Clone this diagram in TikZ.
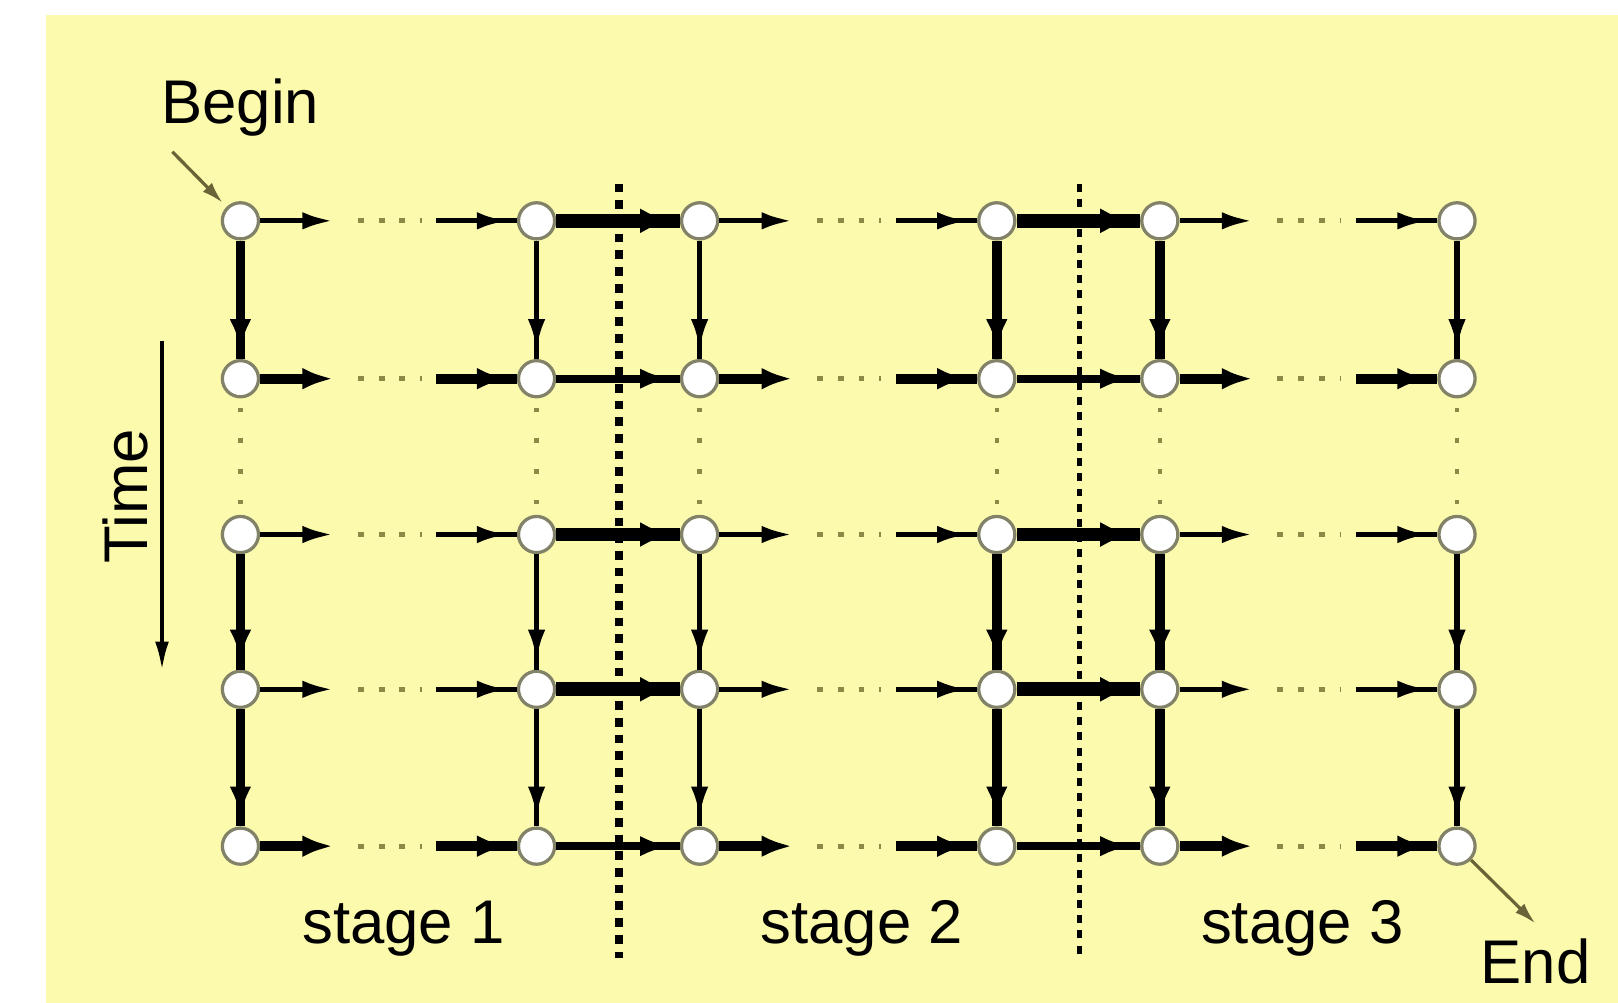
\documentclass[tikz,border=0pt]{standalone}
\usepackage{fontspec}
\setmainfont{Liberation Sans}
\usetikzlibrary{arrows.meta,decorations.markings,calc}
\definecolor{bgyellow}{RGB}{252,250,172}
\definecolor{dotgray}{RGB}{140,136,70}
\definecolor{nodegray}{RGB}{130,130,105}
\definecolor{pointergray}{RGB}{105,100,55}
\begin{document}
\begin{tikzpicture}[x=0.01cm,y=-0.01cm,
  vertex/.style={circle,draw=nodegray,line width=0.9pt,fill=white,minimum size=0.35cm,inner sep=0pt},
  lbl/.style={font=\fontsize{17}{20}\selectfont,inner sep=0pt},
  arrowend/.style 2 args={line width=#1,-{Latex[length=8.5pt,width=#2]}},
  arrownear/.style 2 args={line width=#1,postaction={decorate,decoration={markings,mark=at position -2.5pt with {\arrow{Latex[length=8.5pt,width=#2]}}}}},
  hdots/.style={draw=dotgray,line width=1.3pt,dash pattern=on 1.6pt off 4.1pt},
  vdots/.style={draw=dotgray,line width=1.2pt,dash pattern=on 1.2pt off 7.3pt},
  divthick/.style={line width=2.3pt,dash pattern=on 2.4pt off 2.2pt},
  divthin/.style={line width=1.4pt,dash pattern=on 2.2pt off 2.0pt},
  pointer/.style={draw=pointergray,line width=0.9pt,-{Latex[length=6pt,width=3.5pt]}},
  timearrow/.style={line width=1.1pt,-{Latex[length=8pt,width=3.8pt]}}
]
\useasboundingbox (0,0) rectangle (1568,972);
\fill[white] (0,0) rectangle (1568,972);
\fill[bgyellow] (45,15) rectangle (1568,972);

% nodes
\foreach \c/\x in {1/233,2/520,3/678,4/966,5/1124,6/1412}{
  \foreach \r/\y in {1/214,2/367,3/518,4/668,5/820}{
    \node[vertex] (n-\r-\c) at (\x,\y) {};
  }
}

% stage dividers
\coordinate (s1top) at (600,178);
\coordinate (s1bot) at (600,928);
\coordinate (s2top) at (1046,178);
\coordinate (s2bot) at (1046,928);
\draw[divthick] (s1top) -- (s1bot);
\draw[divthin] (s2top) -- (s2bot);

% horizontal connectors
\foreach \r/\lw/\tw/\cl/\ctw in {1/1.45pt/4.8pt/3.8pt/7pt, 2/2.7pt/6pt/2.3pt/5.6pt, 3/1.45pt/4.8pt/3.8pt/7pt, 4/1.45pt/4.8pt/3.8pt/7pt, 5/2.7pt/6pt/2.3pt/5.6pt}{
  \foreach \a/\b in {1/2,3/4,5/6}{
    \coordinate (p-\r-\a) at ($(n-\r-\a)+(90,0)$);
    \coordinate (d-\r-\a) at ($(n-\r-\a)+(114,0)$);
    \coordinate (e-\r-\a) at ($(n-\r-\a)+(176,0)$);
    \coordinate (q-\r-\a) at ($(n-\r-\a)+(190,0)$);
    \draw[arrowend={\lw}{\tw}] (n-\r-\a) -- (p-\r-\a);
    \draw[hdots] (d-\r-\a) -- (e-\r-\a);
    \draw[arrownear={\lw}{\tw}] (q-\r-\a) -- (n-\r-\b);
  }
  \foreach \a/\b in {2/3,4/5}{
    \draw[arrownear={\cl}{\ctw}] (n-\r-\a) -- (n-\r-\b);
  }
}

% vertical connectors
\foreach \c/\vw/\vtw in {1/2.7pt/6pt, 2/1.45pt/4.8pt, 3/1.45pt/4.8pt, 4/2.7pt/6pt, 5/2.7pt/6pt, 6/1.45pt/4.8pt}{
  \foreach \r/\s in {1/2,3/4,4/5}{
    \draw[arrownear={\vw}{\vtw}] (n-\r-\c) -- (n-\s-\c);
  }
  \coordinate (v1-\c) at ($(n-2-\c)+(0,28)$);
  \coordinate (v2-\c) at ($(n-3-\c)+(0,-28)$);
  \draw[vdots] (v1-\c) -- (v2-\c);
}

% labels
\node[lbl,anchor=base] (begin) at (233,120) {Begin};
\node[lbl,anchor=base] (end) at (1488,953) {End};
\node[lbl,anchor=base] (st1) at (391,914) {stage 1};
\node[lbl,anchor=base] (st2) at (835,914) {stage 2};
\node[lbl,anchor=base] (st3) at (1262,914) {stage 3};
\node[lbl,anchor=base,rotate=90] (time) at (143,481) {Time};

% pointers
\coordinate (bstart) at (167,147);
\draw[pointer,shorten >=1.5pt] (bstart) -- (n-1-1);
\coordinate (eend) at (1488,895);
\draw[pointer] (n-5-6) -- (eend);
\coordinate (t0) at (157,330);
\coordinate (t1) at (157,650);
\draw[timearrow] (t0) -- (t1);
\end{tikzpicture}
\end{document}
